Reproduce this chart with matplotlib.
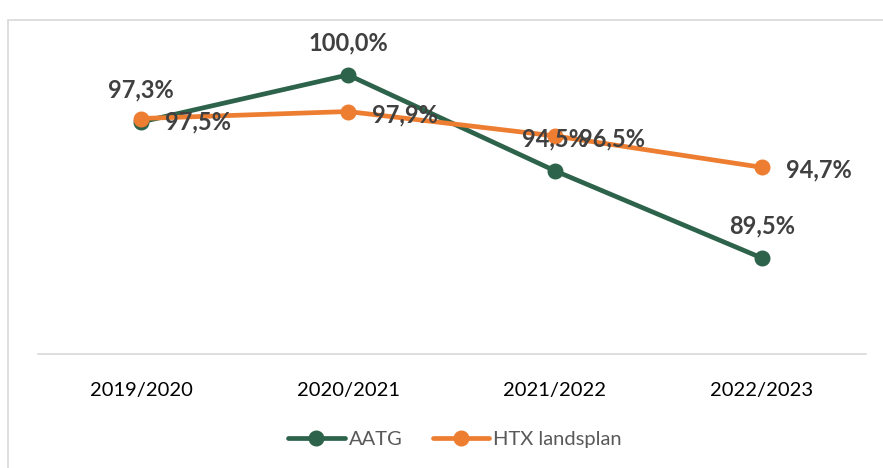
import matplotlib
matplotlib.use("Agg")
import matplotlib.pyplot as plt
from matplotlib.patches import Rectangle

categories = ["2019/2020", "2020/2021", "2021/2022", "2022/2023"]
aatg = [97.3, 100.0, 94.5, 89.5]
htx = [97.5, 97.9, 96.5, 94.7]
series_names = ["AATG", "HTX landsplan"]

GREEN = "#2E634B"
ORANGE = "#ED7D31"
LABEL = "#404040"
FONT = ["Lato", "DejaVu Sans"]

W, H = 883, 468
fig = plt.figure(figsize=(W / 100, H / 100), dpi=100)
fig.patches.append(Rectangle((8 / W, -0.1), 1.2, (H - 20) / H + 0.1, transform=fig.transFigure,
                             fill=False, edgecolor="#D9D9D9", linewidth=1.2))

ax = fig.add_axes([37.5 / W, (H - 354) / H, (865.5 - 37.5) / W, (354 - 40) / H])
x = list(range(len(categories)))
ax.plot(x, aatg, color=GREEN, lw=3.4, marker="o", ms=10.5, label=series_names[0], zorder=3,
        solid_capstyle="round")
ax.plot(x, htx, color=ORANGE, lw=3.4, marker="o", ms=10.5, label=series_names[1], zorder=4,
        solid_capstyle="round")

ax.set_xlim(-0.5, len(categories) - 0.5)
ax.set_ylim(84, 102)
ax.set_yticks([])
ax.set_xticks(x)
ax.set_xticklabels(categories, fontfamily=FONT, fontsize=14.5, color="#000000")
ax.tick_params(axis="x", length=0, pad=20)
for s in ["top", "right", "left"]:
    ax.spines[s].set_visible(False)
ax.spines["bottom"].set_color("#D9D9D9")
ax.spines["bottom"].set_linewidth(1.2)

px = 0.72
for i, v in enumerate(aatg):
    ax.annotate(f"{v:.1f}%".replace(".", ","), (i, v), xytext=(0, 32 * px), textcoords="offset points",
                ha="center", va="center", fontsize=17, fontweight="bold", color=LABEL,
                fontfamily=FONT, zorder=6)
for i, v in enumerate(htx):
    ax.annotate(f"{v:.1f}%".replace(".", ","), (i, v), xytext=(24 * px, -3 * px), textcoords="offset points",
                ha="left", va="center", fontsize=17, fontweight="bold", color=LABEL,
                fontfamily=FONT, zorder=6)

leg = fig.legend(loc="center", bbox_to_anchor=(455 / W, (H - 439) / H), ncol=2, frameon=False,
                 prop={"family": FONT, "size": 14.5}, handlelength=2.8, columnspacing=1.5,
                 handletextpad=0.2, labelcolor="#595959")

fig.savefig("out.png", dpi=100)
